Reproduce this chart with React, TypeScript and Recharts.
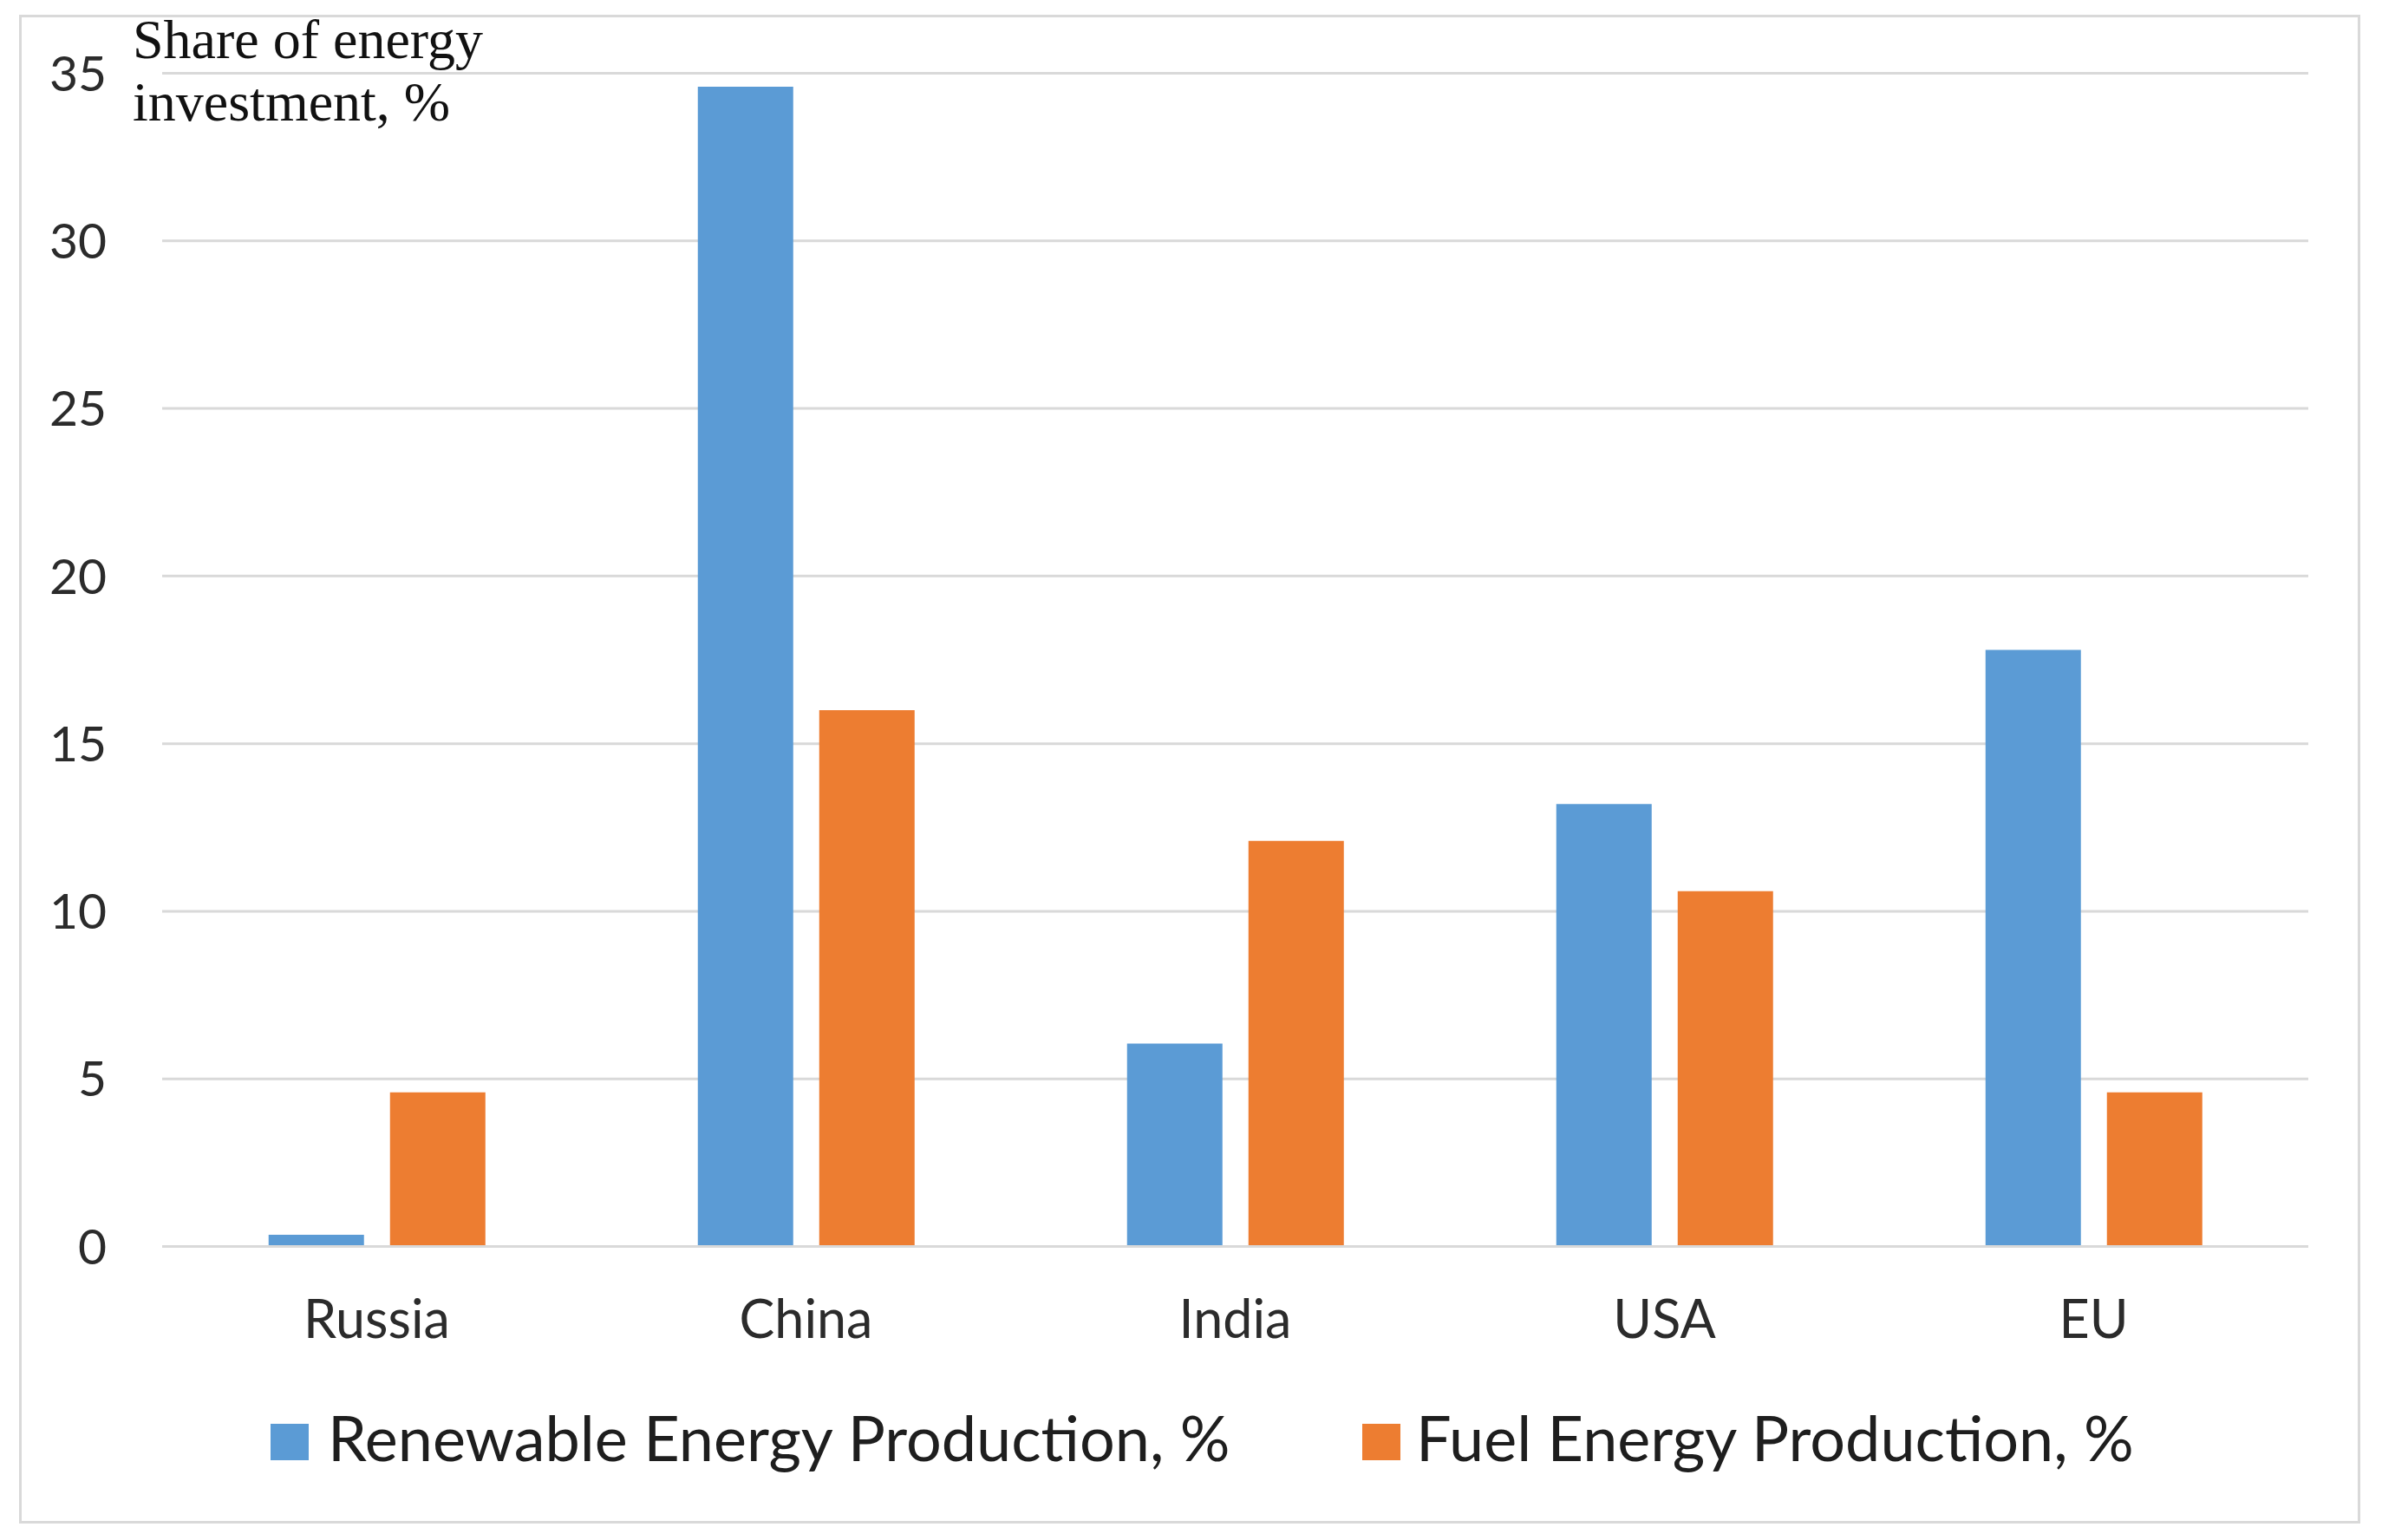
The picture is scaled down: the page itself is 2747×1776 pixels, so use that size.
import React from "react";
import { BarChart, Bar, XAxis, YAxis, CartesianGrid } from "recharts";

const categories = ["Russia", "China", "India", "USA", "EU"];
const renewableValues = [0.35, 34.6, 6.05, 13.2, 17.8];
const fuelValues = [4.6, 16.0, 12.1, 10.6, 4.6];
const yTicks = [0, 5, 10, 15, 20, 25, 30, 35];
const seriesNames = ["Renewable Energy Production, %", "Fuel Energy Production, %"];
const seriesColors = ["#5b9bd5", "#ed7d31"];
const titleLines = ["Share of energy", "investment, %"];

const data = categories.map((c, i) => ({
  name: c,
  renewable: renewableValues[i],
  fuel: fuelValues[i],
}));

const W = 2747;
const H = 1776;
const SANS = "Lato, 'Open Sans', sans-serif";
const SERIF = "'Liberation Serif', 'DejaVu Serif', serif";

export default function App() {
  return (
    <div style={{ position: "absolute", left: 0, top: 0, width: W, height: H, background: "#ffffff" }}>
      <div
        style={{
          position: "absolute",
          left: 22,
          top: 17,
          width: 2700,
          height: 1740,
          border: "3px solid #d9d9d9",
          boxSizing: "border-box",
        }}
      />
      <div style={{ position: "absolute", left: 0, top: 0 }}>
        <BarChart
          width={W}
          height={H}
          data={data}
          margin={{ top: 84.5, right: 85, bottom: 238.5, left: 60 }}
          barCategoryGap="24.8%"
          barGap={30}
        >
          <CartesianGrid vertical={false} stroke="#d9d9d9" strokeWidth={3} />
          <XAxis
            dataKey="name"
            height={100}
            axisLine={{ stroke: "#d9d9d9", strokeWidth: 3 }}
            tickLine={false}
            tickSize={0}
            tickMargin={62}
            tick={{ fill: "#2b2b2b", fontSize: 61, fontFamily: SANS }}
          />
          <YAxis
            width={127}
            domain={[0, 35]}
            ticks={yTicks}
            interval={0}
            axisLine={false}
            tickLine={false}
            tickSize={0}
            tickMargin={64}
            tick={{ fill: "#2b2b2b", fontSize: 57, fontFamily: SANS }}
          />
          <Bar dataKey="renewable" name={seriesNames[0]} fill={seriesColors[0]} isAnimationActive={false} />
          <Bar dataKey="fuel" name={seriesNames[1]} fill={seriesColors[1]} isAnimationActive={false} />
        </BarChart>
      </div>
      <svg
        width={W}
        height={H}
        style={{ position: "absolute", left: 0, top: 0, pointerEvents: "none" }}
      >
        <text fontFamily={SERIF} fontSize={64} fill="#111111">
          <tspan x={153} y={67}>{titleLines[0]}</tspan>
          <tspan x={153} y={139}>{titleLines[1]}</tspan>
        </text>
        <rect x={312} y={1642} width={44} height={42} fill={seriesColors[0]} />
        <text x={378} y={1685} fontFamily={SANS} fontSize={72} fill="#1e1e1e">
          {seriesNames[0]}
        </text>
        <rect x={1571} y={1642} width={44} height={42} fill={seriesColors[1]} />
        <text x={1633} y={1685} fontFamily={SANS} fontSize={72} fill="#1e1e1e">
          {seriesNames[1]}
        </text>
      </svg>
    </div>
  );
}
